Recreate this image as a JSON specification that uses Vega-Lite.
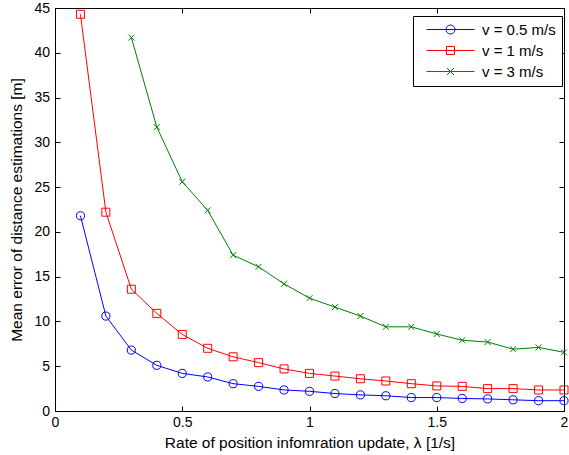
{
  "$schema": "https://vega.github.io/schema/vega-lite/v6.json",
  "width": 509,
  "height": 403,
  "autosize": {"type": "none"},
  "padding": {"left": 55, "top": 8, "right": 5, "bottom": 44},
  "background": "white",
  "config": {
    "view": {"stroke": "black", "strokeWidth": 1},
    "font": "Liberation Sans",
    "axis": {
      "grid": false,
      "domainColor": "black",
      "tickColor": "black",
      "labelColor": "black",
      "titleColor": "black",
      "labelFont": "Liberation Sans",
      "titleFont": "Liberation Sans",
      "labelFontSize": 14,
      "titleFontSize": 15.5,
      "titleFontWeight": "normal",
      "tickSize": -5,
      "domainWidth": 1,
      "tickWidth": 1,
      "labelFlush": false
    }
  },
  "data": {
    "values": [
      {"x": 0.1, "y": 21.8, "series": "v = 0.5 m/s"},
      {"x": 0.2, "y": 10.6, "series": "v = 0.5 m/s"},
      {"x": 0.3, "y": 6.8, "series": "v = 0.5 m/s"},
      {"x": 0.4, "y": 5.1, "series": "v = 0.5 m/s"},
      {"x": 0.5, "y": 4.2, "series": "v = 0.5 m/s"},
      {"x": 0.6, "y": 3.8, "series": "v = 0.5 m/s"},
      {"x": 0.7, "y": 3.05, "series": "v = 0.5 m/s"},
      {"x": 0.8, "y": 2.75, "series": "v = 0.5 m/s"},
      {"x": 0.9, "y": 2.35, "series": "v = 0.5 m/s"},
      {"x": 1.0, "y": 2.2, "series": "v = 0.5 m/s"},
      {"x": 1.1, "y": 1.95, "series": "v = 0.5 m/s"},
      {"x": 1.2, "y": 1.8, "series": "v = 0.5 m/s"},
      {"x": 1.3, "y": 1.7, "series": "v = 0.5 m/s"},
      {"x": 1.4, "y": 1.5, "series": "v = 0.5 m/s"},
      {"x": 1.5, "y": 1.5, "series": "v = 0.5 m/s"},
      {"x": 1.6, "y": 1.4, "series": "v = 0.5 m/s"},
      {"x": 1.7, "y": 1.35, "series": "v = 0.5 m/s"},
      {"x": 1.8, "y": 1.25, "series": "v = 0.5 m/s"},
      {"x": 1.9, "y": 1.15, "series": "v = 0.5 m/s"},
      {"x": 2.0, "y": 1.15, "series": "v = 0.5 m/s"},
      {"x": 0.1, "y": 44.3, "series": "v = 1 m/s"},
      {"x": 0.2, "y": 22.2, "series": "v = 1 m/s"},
      {"x": 0.3, "y": 13.6, "series": "v = 1 m/s"},
      {"x": 0.4, "y": 10.9, "series": "v = 1 m/s"},
      {"x": 0.5, "y": 8.55, "series": "v = 1 m/s"},
      {"x": 0.6, "y": 7.0, "series": "v = 1 m/s"},
      {"x": 0.7, "y": 6.05, "series": "v = 1 m/s"},
      {"x": 0.8, "y": 5.4, "series": "v = 1 m/s"},
      {"x": 0.9, "y": 4.7, "series": "v = 1 m/s"},
      {"x": 1.0, "y": 4.2, "series": "v = 1 m/s"},
      {"x": 1.1, "y": 3.9, "series": "v = 1 m/s"},
      {"x": 1.2, "y": 3.6, "series": "v = 1 m/s"},
      {"x": 1.3, "y": 3.35, "series": "v = 1 m/s"},
      {"x": 1.4, "y": 3.05, "series": "v = 1 m/s"},
      {"x": 1.5, "y": 2.8, "series": "v = 1 m/s"},
      {"x": 1.6, "y": 2.75, "series": "v = 1 m/s"},
      {"x": 1.7, "y": 2.5, "series": "v = 1 m/s"},
      {"x": 1.8, "y": 2.5, "series": "v = 1 m/s"},
      {"x": 1.9, "y": 2.35, "series": "v = 1 m/s"},
      {"x": 2.0, "y": 2.35, "series": "v = 1 m/s"},
      {"x": 0.3, "y": 41.7, "series": "v = 3 m/s"},
      {"x": 0.4, "y": 31.7, "series": "v = 3 m/s"},
      {"x": 0.5, "y": 25.6, "series": "v = 3 m/s"},
      {"x": 0.6, "y": 22.4, "series": "v = 3 m/s"},
      {"x": 0.7, "y": 17.4, "series": "v = 3 m/s"},
      {"x": 0.8, "y": 16.1, "series": "v = 3 m/s"},
      {"x": 0.9, "y": 14.2, "series": "v = 3 m/s"},
      {"x": 1.0, "y": 12.6, "series": "v = 3 m/s"},
      {"x": 1.1, "y": 11.6, "series": "v = 3 m/s"},
      {"x": 1.2, "y": 10.6, "series": "v = 3 m/s"},
      {"x": 1.3, "y": 9.4, "series": "v = 3 m/s"},
      {"x": 1.4, "y": 9.4, "series": "v = 3 m/s"},
      {"x": 1.5, "y": 8.6, "series": "v = 3 m/s"},
      {"x": 1.6, "y": 7.9, "series": "v = 3 m/s"},
      {"x": 1.7, "y": 7.7, "series": "v = 3 m/s"},
      {"x": 1.8, "y": 6.9, "series": "v = 3 m/s"},
      {"x": 1.9, "y": 7.1, "series": "v = 3 m/s"},
      {"x": 2.0, "y": 6.55, "series": "v = 3 m/s"}
    ]
  },
  "layer": [
    {
      "mark": {"type": "line", "strokeWidth": 1},
      "encoding": {
        "x": {
          "field": "x", "type": "quantitative",
          "scale": {"domain": [0, 2], "nice": false, "zero": false},
          "axis": {
            "values": [0, 0.5, 1, 1.5, 2],
            "format": "~g",
            "labelPadding": 9.5,
            "title": "Rate of position infomration update, λ [1/s]",
            "titleBaseline": "alphabetic",
            "titleY": 36
          }
        },
        "y": {
          "field": "y", "type": "quantitative",
          "scale": {"domain": [0, 45], "nice": false},
          "axis": {
            "values": [0, 5, 10, 15, 20, 25, 30, 35, 40, 45],
            "labelPadding": 10.5,
            "title": "Mean error of distance estimations [m]",
            "titleBaseline": "alphabetic",
            "titleX": -33.5,
            "titleY": 201.5
          }
        },
        "color": {
          "field": "series", "type": "nominal",
          "scale": {"domain": ["v = 0.5 m/s", "v = 1 m/s", "v = 3 m/s"], "range": ["#0000ff", "#ff0000", "#008000"]},
          "legend": {
            "title": null,
            "orient": "none",
            "legendX": 358,
            "legendY": 8,
            "direction": "vertical",
            "strokeColor": "black",
            "fillColor": "white",
            "padding": 6,
            "symbolSize": 100,
            "symbolStrokeWidth": 1,
            "symbolOffset": 24,
            "labelOffset": 24,
            "rowPadding": 5,
            "labelFont": "Liberation Sans",
            "labelFontSize": 15,
            "labelColor": "black",
            "encode": {
              "symbols": {
                "update": {
                  "fill": {"value": "transparent"},
                  "strokeWidth": {"value": 1},
                  "shape": {"signal": "datum.value === 'v = 0.5 m/s' ? 'M-4.8,0H4.8M0.9,0A0.9,0.9 0 1 1 -0.9,0A0.9,0.9 0 1 1 0.9,0' : datum.value === 'v = 1 m/s' ? 'M-4.8,0H4.8M-0.8,-0.8H0.8V0.8H-0.8Z' : 'M-4.8,0H4.8M-0.7,-0.7L0.7,0.7M-0.7,0.7L0.7,-0.7'"}
                }
              }
            }
          }
        }
      }
    },
    {
      "transform": [{"filter": "datum.series === 'v = 0.5 m/s'"}],
      "mark": {"type": "point", "shape": "circle", "filled": false, "strokeWidth": 1, "size": 66, "opacity": 1},
      "encoding": {
        "x": {
          "field": "x", "type": "quantitative",
          "axis": {"orient": "top", "labels": false, "title": null, "values": [0, 0.5, 1, 1.5, 2]}
        },
        "y": {
          "field": "y", "type": "quantitative",
          "axis": {"orient": "right", "labels": false, "title": null, "values": [0, 5, 10, 15, 20, 25, 30, 35, 40, 45]}
        },
        "color": {"field": "series", "type": "nominal", "legend": null}
      }
    },
    {
      "transform": [{"filter": "datum.series === 'v = 1 m/s'"}],
      "mark": {"type": "point", "shape": "square", "filled": false, "strokeWidth": 1, "size": 64, "opacity": 1},
      "encoding": {
        "x": {"field": "x", "type": "quantitative", "axis": null},
        "y": {"field": "y", "type": "quantitative", "axis": null},
        "color": {"field": "series", "type": "nominal", "legend": null}
      }
    },
    {
      "transform": [{"filter": "datum.series === 'v = 3 m/s'"}],
      "mark": {"type": "point", "shape": "M-0.75,-0.75L0.75,0.75M-0.75,0.75L0.75,-0.75", "filled": false, "strokeWidth": 1, "size": 64, "opacity": 1},
      "encoding": {
        "x": {"field": "x", "type": "quantitative", "axis": null},
        "y": {"field": "y", "type": "quantitative", "axis": null},
        "color": {"field": "series", "type": "nominal", "legend": null}
      }
    }
  ],
  "resolve": {"axis": {"x": "independent", "y": "independent"}}
}
